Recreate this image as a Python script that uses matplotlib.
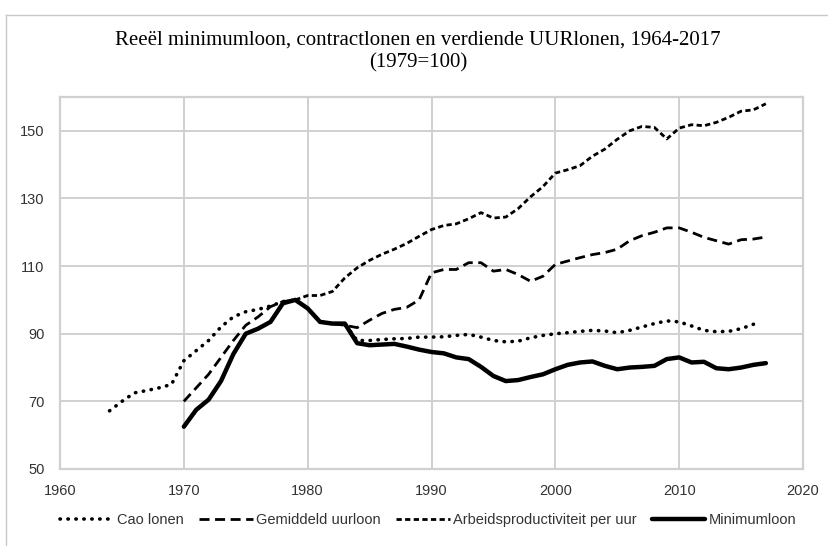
import numpy as np
from matplotlib import pyplot as plt
from matplotlib.lines import Line2D

# -----------------------------------------------------------#
# Data (1979=100)
# -----------------------------------------------------------#
cao_years = list(range(1964, 2017))
cao_lonen = [67.2, 70.0, 72.5, 73.2, 74.0, 75.0, 82.0, 85.0, 88.0, 92.0,
             95.0, 96.5, 97.2, 98.2, 99.5, 100.0, 97.5, 93.5, 93.0, 92.8,
             88.0, 88.0, 88.3, 88.5, 88.6, 89.0, 89.0, 89.1, 89.5, 89.8,
             89.0, 88.0, 87.6, 87.8, 88.8, 89.5, 90.0, 90.3, 90.7, 91.0,
             90.8, 90.3, 91.0, 92.0, 93.0, 93.8, 93.5, 92.3, 91.0, 90.6,
             90.7, 91.5, 92.8]

gem_years = list(range(1970, 2018))
gemiddeld = [70.0, 74.0, 78.0, 83.0, 88.0, 92.5, 95.0, 98.0, 99.5, 100.0,
             97.5, 93.5, 93.0, 92.5, 91.8, 94.0, 96.0, 97.2, 97.8, 100.0,
             108.0, 109.0, 109.0, 111.0, 111.0, 108.5, 109.0, 107.5, 105.5, 107.0,
             110.5, 111.5, 112.5, 113.4, 114.0, 115.0, 117.5, 119.0, 120.0, 121.3,
             121.3, 120.0, 118.5, 117.5, 116.5, 117.8, 118.0, 118.6]

arb_years = list(range(1979, 2018))
arbeidsprod = [100.0, 101.3, 101.3, 102.5, 106.5, 109.5, 111.7, 113.5, 115.0, 116.7,
               118.8, 120.8, 122.0, 122.5, 124.0, 125.8, 124.2, 124.5, 127.0, 130.5,
               133.5, 137.5, 138.5, 139.7, 142.5, 144.6, 147.5, 150.0, 151.3, 151.0,
               147.6, 150.8, 151.8, 151.5, 152.5, 154.0, 155.8, 156.2, 158.0]

min_years = list(range(1970, 2018))
minimumloon = [62.5, 67.5, 70.5, 76.0, 84.0, 90.0, 91.5, 93.5, 99.0, 100.0,
               97.5, 93.5, 93.0, 93.0, 87.2, 86.6, 86.8, 87.0, 86.2, 85.3,
               84.6, 84.2, 83.0, 82.5, 80.2, 77.5, 76.0, 76.3, 77.2, 78.0,
               79.5, 80.8, 81.5, 81.8, 80.5, 79.5, 80.0, 80.2, 80.5, 82.5,
               83.0, 81.5, 81.7, 79.8, 79.5, 80.0, 80.8, 81.3]

x_ticks = [1960, 1970, 1980, 1990, 2000, 2010, 2020]
y_ticks = [50, 70, 90, 110, 130, 150]

# -----------------------------------------------------------#
# Figure
# -----------------------------------------------------------#
fig = plt.figure(figsize=(8.29, 5.46), dpi=100)
ax = fig.add_axes([60/829, 1-469/546, (803-60)/829, (469-97)/546])

grid_col = '#d0d0d0'
fig.text(418/829, 1-40/546, "Reeël minimumloon, contractlonen en verdiende UURlonen, 1964-2017",
         ha='center', va='center', fontsize=15, family='Liberation Serif')
fig.text(418/829, 1-63/546, "(1979=100)",
         ha='center', va='center', fontsize=15, family='Liberation Serif')

# outer chart border (left + top)
fig.add_artist(Line2D([6/829, 6/829], [0, 1-15/546], transform=fig.transFigure, color='#c8c8c8', lw=1))
fig.add_artist(Line2D([6/829, 1], [1-15/546, 1-15/546], transform=fig.transFigure, color='#c8c8c8', lw=1))

# -----------------------------------------------------------#
# Lines
# -----------------------------------------------------------#
ax.plot(cao_years, cao_lonen, color='black', lw=2.6, linestyle=(0, (0.1, 2.1)),
        dash_capstyle='round', label='Cao lonen')
ax.plot(gem_years, gemiddeld, color='black', lw=2.0, linestyle=(0, (3.6, 2.0)),
        label='Gemiddeld uurloon')
ax.plot(arb_years, arbeidsprod, color='black', lw=2.0, linestyle=(0, (1.9, 1.2)),
        label='Arbeidsproductiviteit per uur')
ax.plot(min_years, minimumloon, color='black', lw=3.2, solid_capstyle='round',
        label='Minimumloon')

ax.set_xlim(1960, 2020)
ax.set_ylim(50, 160)
ax.set_xticks(x_ticks)
ax.set_yticks(y_ticks)
ax.grid(True, color=grid_col, linewidth=1.4)
ax.set_axisbelow(True)
for s in ax.spines.values():
    s.set_color(grid_col)
    s.set_linewidth(1.6)
ax.tick_params(length=0, pad=11, labelsize=10.5, labelcolor='#333333')
for lab in ax.get_xticklabels() + ax.get_yticklabels():
    lab.set_family('Liberation Sans')

leg = fig.legend(loc='center', bbox_to_anchor=(428/829, 1-520/546), ncol=4, frameon=False,
                 handlelength=3.7, handletextpad=0.2, columnspacing=1.05,
                 prop={'family': 'Liberation Sans', 'size': 10.5})
for t in leg.get_texts():
    t.set_color('#333333')

fig.savefig('out.png', dpi=100)
